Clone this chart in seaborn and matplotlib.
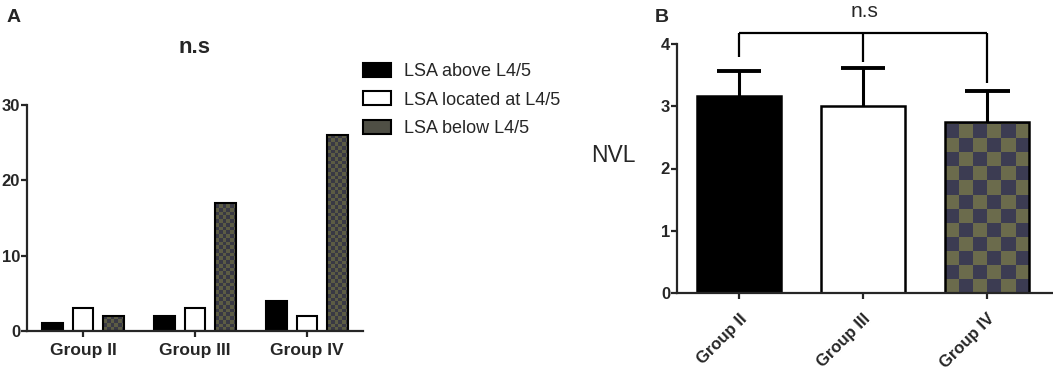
import numpy as np
import pandas as pd
import seaborn as sns
import matplotlib.pyplot as plt
from matplotlib.colors import ListedColormap
from matplotlib.patches import Patch

# panel A: number of patients by LSA position
groups = ["Group II", "Group III", "Group IV"]
locations = ["LSA above L4/5", "LSA located at L4/5", "LSA below L4/5"]
above = [1, 2, 4]
located_at = [3, 3, 2]
below = [2, 17, 26]

# panel B: NVL mean and SEM
nvl_mean = [3.17, 3.0, 2.75]
nvl_sem = [0.40, 0.62, 0.50]
bracket_drop = [3.79, 3.71, 3.37]
bracket_top = 4.18

W, H = 1053, 374


def checker_fill(ax, patch, sq_px, c1, c2):
    # fill a bar with a checkerboard image clipped to the bar
    x0, y0 = patch.get_x(), patch.get_y()
    w, h = patch.get_width(), patch.get_height()
    xr, yr = ax.get_xlim(), ax.get_ylim()
    px_x = ax.bbox.width / (xr[1] - xr[0])
    px_y = ax.bbox.height / (yr[1] - yr[0])
    nx = int(np.ceil(w * px_x / sq_px))
    ny = int(np.ceil(h * px_y / sq_px))
    board = np.indices((ny, nx)).sum(axis=0) % 2
    ext = [x0, x0 + nx * sq_px / px_x, y0, y0 + ny * sq_px / px_y]
    im = ax.imshow(board, cmap=ListedColormap([c1, c2]), extent=ext, origin="lower",
                   aspect="auto", interpolation="nearest", zorder=patch.get_zorder() - 0.1)
    im.set_clip_path(patch)
    patch.set_facecolor("none")


sns.set_style("ticks")
plt.rcParams["font.family"] = ["Liberation Sans", "DejaVu Sans"]
plt.rcParams["axes.linewidth"] = 1.6
plt.rcParams["xtick.major.width"] = 1.6
plt.rcParams["ytick.major.width"] = 1.6
plt.rcParams["xtick.major.size"] = 4
plt.rcParams["ytick.major.size"] = 4

fig = plt.figure(figsize=(W / 100, H / 100), dpi=100)


def px_axes(left, right, top, bottom):
    return fig.add_axes([left / W, 1 - bottom / H, (right - left) / W, (bottom - top) / H])


# ---------------- panel A
df_a = pd.DataFrame({
    "group": groups * 3,
    "location": [locations[0]] * 3 + [locations[1]] * 3 + [locations[2]] * 3,
    "count": above + located_at + below,
})
ax1 = px_axes(27, 363, 105, 331)
sns.barplot(data=df_a, x="group", y="count", hue="location", hue_order=locations,
            palette=["black", "white", "#4a4a40"], width=0.81, gap=0.32,
            edgecolor="black", linewidth=1.5, legend=False, ax=ax1)
ax1.set_xlim(-0.5, 2.5)
ax1.set_ylim(0, 30)
ax1.set_yticks([0, 10, 20, 30])
for p in ax1.containers[2]:
    checker_fill(ax1, p, 3.7, "#5c5c44", "#393944")
ax1.set_xlim(-0.5, 2.5)
ax1.set_ylim(0, 30)
ax1.set_xlabel("")
ax1.set_ylabel("")
sns.despine(ax=ax1)
ax1.tick_params(axis="y", labelsize=12, pad=1)
ax1.tick_params(axis="x", labelsize=12.5, pad=5)
for t in ax1.get_xticklabels() + ax1.get_yticklabels():
    t.set_fontweight("bold")

handles = [Patch(facecolor="black", edgecolor="black", lw=1.5),
           Patch(facecolor="white", edgecolor="black", lw=1.5),
           Patch(facecolor="#4f4f45", edgecolor="black", lw=1.5)]
fig.legend(handles, locations, loc="upper left", bbox_to_anchor=(363 / W, 1 - 63 / H),
           frameon=False, fontsize=13, handlelength=1.55, handleheight=0.8,
           handletextpad=0.7, labelspacing=0.62, borderpad=0, borderaxespad=0)

fig.text(195 / W, 1 - 53 / H, "n.s", ha="center", va="baseline", fontsize=16, fontweight="bold")
fig.text(7 / W, 1 - 22 / H, "A", ha="left", va="baseline", fontsize=14, fontweight="bold")

# ---------------- panel B
df_b = pd.DataFrame({"group": groups, "nvl": nvl_mean})
ax2 = px_axes(677, 1053, 44, 293)
sns.barplot(data=df_b, x="group", y="nvl", hue="group",
            palette=["black", "white", "#6b6b4c"], width=0.68,
            edgecolor="black", linewidth=1.8, legend=False, errorbar=None, ax=ax2)
ax2.set_xlim(-0.5, 2.53)
ax2.set_ylim(0, 4)
checker_fill(ax2, ax2.patches[2], 14, "#6b6b4c", "#3c3c52")
ax2.set_xlim(-0.5, 2.53)
ax2.set_ylim(0, 4)
ax2.set_yticks([0, 1, 2, 3, 4])

xs = np.arange(len(groups))
tops = np.array(nvl_mean) + np.array(nvl_sem)
ax2.vlines(xs, nvl_mean, tops, color="black", lw=2.2, zorder=3)
ax2.hlines(tops, xs - 0.18, xs + 0.18, color="black", lw=2.8, zorder=3)

# significance bracket
ax2.hlines(bracket_top, xs[0], xs[-1], color="black", lw=1.6, clip_on=False)
ax2.vlines(xs, bracket_drop, bracket_top, color="black", lw=1.6, clip_on=False)

ax2.set_xlabel("")
ax2.set_ylabel("")
sns.despine(ax=ax2)
ax2.tick_params(axis="y", labelsize=12, pad=1)
ax2.tick_params(axis="x", labelsize=12, pad=9)
for t in ax2.get_yticklabels():
    t.set_fontweight("bold")
for t in ax2.get_xticklabels():
    t.set_fontweight("bold")
    t.set_rotation(45)
    t.set_ha("right")
    t.set_rotation_mode("anchor")

fig.text(613 / W, 1 - 162 / H, "NVL", ha="center", va="baseline", fontsize=16.5)
fig.text(865 / W, 1 - 17 / H, "n.s", ha="center", va="baseline", fontsize=15)
fig.text(655 / W, 1 - 22 / H, "B", ha="left", va="baseline", fontsize=14, fontweight="bold")

fig.savefig("out.png", dpi=100)
